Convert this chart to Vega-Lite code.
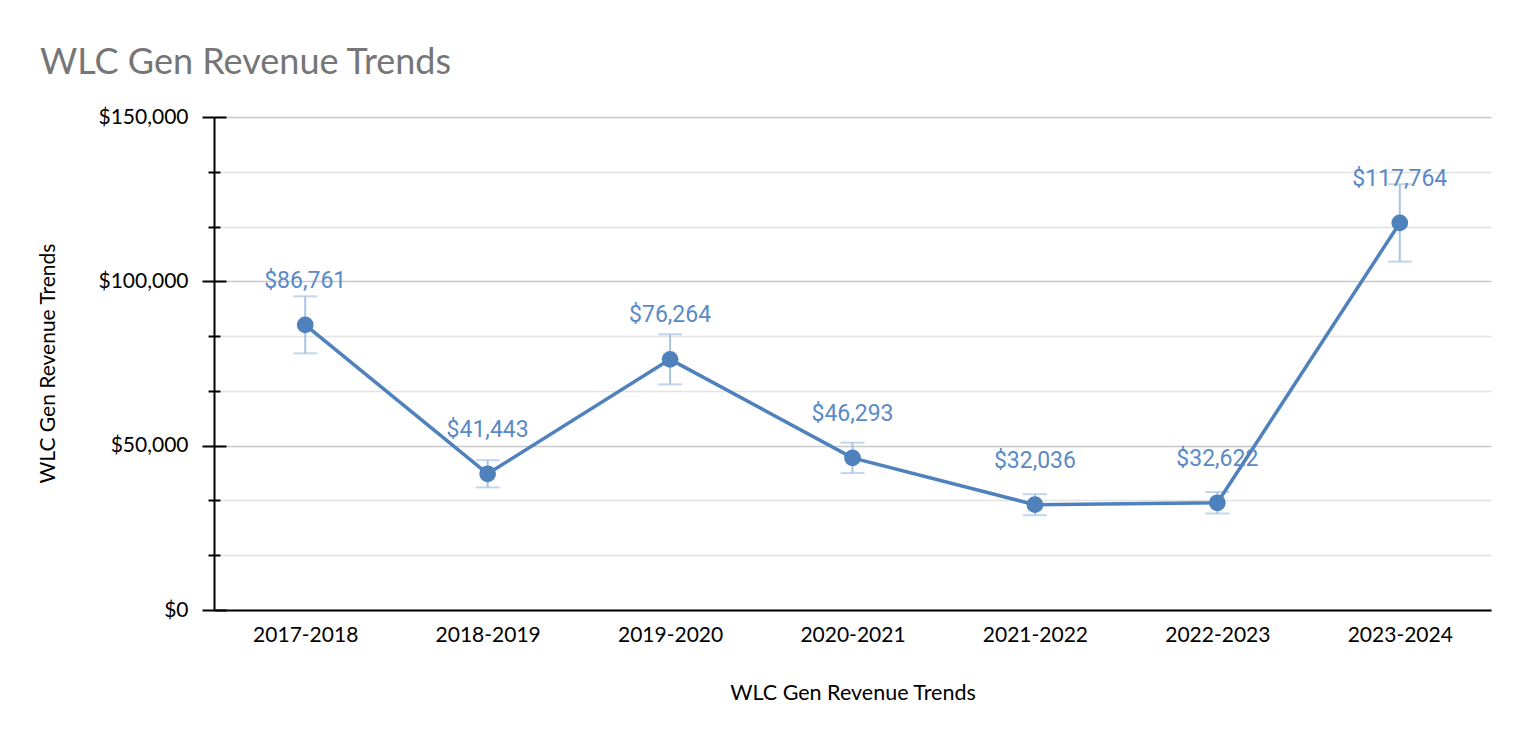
{
  "$schema": "https://vega.github.io/schema/vega-lite/v6.json",
  "width": 1277,
  "height": 493,
  "autosize": {"type": "none"},
  "padding": {"left": 214, "top": 117, "right": 36, "bottom": 134},
  "background": "white",
  "title": {
    "text": "WLC Gen Revenue Trends",
    "anchor": "start",
    "frame": "group",
    "font": "Lato",
    "fontSize": 36,
    "fontWeight": "normal",
    "color": "#767676",
    "baseline": "alphabetic",
    "offset": -4,
    "dx": -174
  },
  "config": {
    "view": {"stroke": null},
    "axis": {"labelFont": "Lato", "titleFont": "Lato", "labelColor": "#000000", "titleColor": "#000000"}
  },
  "data": {
    "values": [
      {"period": "2017-2018", "value": 86761, "lo": 78085, "hi": 95437},
      {"period": "2018-2019", "value": 41443, "lo": 37299, "hi": 45587},
      {"period": "2019-2020", "value": 76264, "lo": 68638, "hi": 83890},
      {"period": "2020-2021", "value": 46293, "lo": 41664, "hi": 50922},
      {"period": "2021-2022", "value": 32036, "lo": 28832, "hi": 35240},
      {"period": "2022-2023", "value": 32622, "lo": 29360, "hi": 35884},
      {"period": "2023-2024", "value": 117764, "lo": 105988, "hi": 129540}
    ]
  },
  "encoding": {
    "x": {
      "field": "period",
      "type": "ordinal",
      "sort": null,
      "scale": {"type": "point", "padding": 0.5},
      "axis": {
        "title": "WLC Gen Revenue Trends",
        "titleFontSize": 21.5,
        "titleFontWeight": "normal",
        "titleY": 83,
        "titleBaseline": "middle",
        "labelFontSize": 21,
        "labelAngle": 0,
        "labelPadding": 14,
        "ticks": false,
        "grid": false,
        "domainColor": "#000000",
        "domainWidth": 2
      }
    }
  },
  "layer": [
    {
      "mark": {"type": "rule", "color": "#a9c3e3", "strokeWidth": 2},
      "encoding": {
        "y": {
          "field": "lo",
          "type": "quantitative",
          "scale": {"domain": [0, 150000], "nice": false},
          "axis": {
            "orient": "left",
            "title": null,
            "labels": false,
            "grid": false,
            "domain": false,
            "values": [0, 16666.667, 33333.333, 50000, 66666.667, 83333.333, 100000, 116666.667, 133333.333, 150000],
            "tickColor": "#000000",
            "tickWidth": 2,
            "tickSize": {"condition": {"test": "abs(datum.value % 50000) < 1", "value": -12}, "value": -6}
          }
        },
        "y2": {"field": "hi"}
      }
    },
    {
      "mark": {"type": "tick", "color": "#a9c3e3", "thickness": 2, "size": 24},
      "encoding": {"y": {"field": "lo", "type": "quantitative", "axis": null}}
    },
    {
      "mark": {"type": "tick", "color": "#a9c3e3", "thickness": 2, "size": 24},
      "encoding": {"y": {"field": "hi", "type": "quantitative", "axis": null}}
    },
    {
      "mark": {"type": "line", "color": "#4f81bd", "strokeWidth": 3.5},
      "encoding": {
        "y": {
          "field": "value",
          "type": "quantitative",
          "axis": {
            "orient": "left",
            "title": "WLC Gen Revenue Trends",
            "titleFontSize": 21,
            "titleFontWeight": "normal",
            "titleX": -166,
            "titleY": 246,
            "titleAngle": -90,
            "titleAlign": "center",
            "titleBaseline": "middle",
            "values": [0, 16666.667, 33333.333, 50000, 66666.667, 83333.333, 100000, 116666.667, 133333.333, 150000],
            "format": "$,.0f",
            "labelExpr": "abs(datum.value % 50000) < 1 ? datum.label : ''",
            "labelFontSize": 21,
            "labelPadding": 14,
            "domainColor": "#000000",
            "domainWidth": 2,
            "tickColor": "#000000",
            "tickWidth": 2,
            "tickSize": {"condition": {"test": "abs(datum.value % 50000) < 1", "value": 12}, "value": 6},
            "grid": true,
            "gridWidth": 1.5,
            "gridColor": {"condition": {"test": "abs(datum.value % 50000) < 1", "value": "#c8c8c8"}, "value": "#e3e3e3"}
          }
        }
      }
    },
    {
      "mark": {"type": "point", "filled": true, "color": "#4f81bd", "size": 280, "opacity": 1},
      "encoding": {"y": {"field": "value", "type": "quantitative", "axis": null}}
    },
    {
      "mark": {"type": "text", "font": "Roboto", "fontSize": 23, "color": "#5a8ac6", "dy": -44, "baseline": "middle"},
      "encoding": {
        "y": {"field": "value", "type": "quantitative", "axis": null},
        "text": {"field": "value", "type": "quantitative", "format": "$,.0f"}
      }
    }
  ],
  "resolve": {"axis": {"y": "independent"}}
}
